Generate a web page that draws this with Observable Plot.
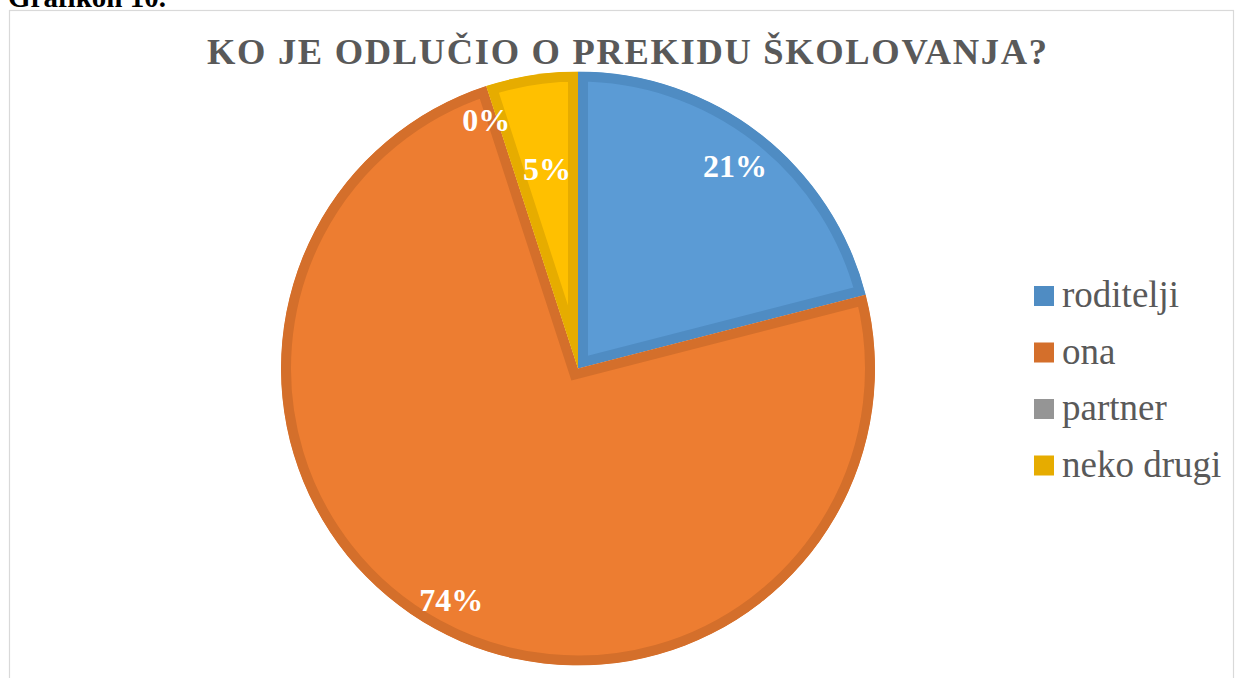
<!DOCTYPE html>
<html>
<head>
<meta charset="utf-8">
<script src="https://cdn.jsdelivr.net/npm/d3@7"></script>
<script src="https://cdn.jsdelivr.net/npm/@observablehq/plot@0.6"></script>
<style>
  html, body { margin: 0; padding: 0; background: #fff; }
  #wrap { position: relative; width: 1235px; height: 678px; overflow: hidden; }
  #wrap > svg { position: absolute; left: 0; top: 0; }
</style>
</head>
<body>
<div id="wrap"></div>
<script>
// ---- data ----
const categories = ["roditelji", "ona", "partner", "neko drugi"];
const shares = [21, 74, 0, 5];           // percent
const labels = ["21%", "74%", "0%", "5%"];
const titleText = "KO JE ODLUČIO O PREKIDU ŠKOLOVANJA?";
const captionText = "Grafikon 10.";

// ---- styles / layout ----
const fillColors = ["#5B9BD5", "#ED7D31", "#A5A5A5", "#FFC000"];
const edgeColors = ["#4F8CC3", "#D46F2B", "#959595", "#E6AC00"];
const labelRadius = [0.86, 0.89, 0.89, 0.68];
const labelAngleShift = [0, 0, -2.4, 0]; // degrees
const band = 10;
const serif = "'Liberation Serif', 'Times New Roman', serif";

const rows = categories.map((c, i) => ({category: c, value: shares[i], label: labels[i], i}));
const arcs = d3.pie().sort(null).value(d => d.value)(rows);
const labelData = arcs.map(a => {
  const mid = (a.startAngle + a.endAngle) / 2 + labelAngleShift[a.data.i] * Math.PI / 180;
  const r = labelRadius[a.data.i];
  return {label: a.data.label, x: r * Math.sin(mid), y: r * Math.cos(mid)};
});

const W = 1235, H = 678;
const cx = 578, cy = 368.5, R = 297;

function pieMark(index, scales, values, dimensions, context) {
  const x0 = scales.x(0), y0 = scales.y(0);
  const rad = scales.x(1) - scales.x(0);
  const arcGen = d3.arc().innerRadius(0).outerRadius(rad);
  const g = d3.create("svg:g").attr("transform", `translate(${x0},${y0})`);
  const defs = g.append("defs");
  arcs.forEach((a, k) => {
    if (a.endAngle - a.startAngle <= 0) return;
    const id = "slice-clip-" + k;
    const d = arcGen(a);
    defs.append("clipPath").attr("id", id).append("path").attr("d", d);
    g.append("path")
      .attr("d", d)
      .attr("fill", fillColors[a.data.i])
      .attr("stroke", edgeColors[a.data.i])
      .attr("stroke-width", band * 2)
      .attr("stroke-linejoin", "miter")
      .attr("clip-path", `url(#${id})`);
  });
  return g.node();
}

const plot = Plot.plot({
  width: W,
  height: H,
  marginLeft: cx - R,
  marginRight: W - (cx + R),
  marginTop: cy - R,
  marginBottom: H - (cy + R),
  x: {domain: [-1, 1], axis: null},
  y: {domain: [-1, 1], axis: null},
  style: {background: "transparent", overflow: "visible"},
  marks: [
    pieMark,
    Plot.text(labelData, {
      x: "x", y: "y", text: "label",
      fill: "white", fontWeight: "bold", fontSize: 32,
      fontFamily: serif
    })
  ]
});

const wrap = document.getElementById("wrap");

// overlay: frame, caption, title, legend
const over = d3.create("svg").attr("width", W).attr("height", H);
over.append("rect")
  .attr("x", 9.5).attr("y", 10.5).attr("width", 1224).attr("height", 720)
  .attr("fill", "white").attr("stroke", "#d9d9d9").attr("stroke-width", 1.2);
over.append("text")
  .attr("x", 8).attr("y", 7)
  .attr("font-family", serif).attr("font-weight", "bold").attr("font-size", 29)
  .attr("fill", "#000").text(captionText);
over.append("text")
  .attr("x", 627).attr("y", 63.5)
  .attr("text-anchor", "middle")
  .attr("textLength", 840).attr("lengthAdjust", "spacing")
  .attr("font-family", serif).attr("font-weight", "bold").attr("font-size", 36.5)
  .attr("fill", "#595959").text(titleText);

const legY = [296, 352.5, 409, 465.5];
const lg = over.append("g");
categories.forEach((c, i) => {
  lg.append("rect")
    .attr("x", 1034).attr("y", legY[i] - 10).attr("width", 20).attr("height", 20)
    .attr("fill", edgeColors[i]);
  lg.append("text")
    .attr("x", 1062).attr("y", legY[i] + 11)
    .attr("font-family", serif).attr("font-size", 37)
    .attr("fill", "#595959").text(c);
});

wrap.appendChild(over.node());
wrap.appendChild(plot);
</script>
</body>
</html>
